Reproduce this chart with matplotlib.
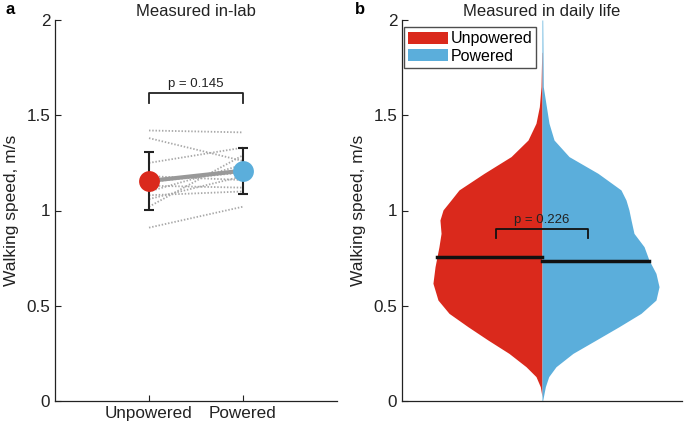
import numpy as np
import matplotlib
matplotlib.use("Agg")
import matplotlib.pyplot as plt
from matplotlib.patches import Patch

plt.rcParams['font.family'] = ['Liberation Sans', 'DejaVu Sans']

RED = '#DA291C'
BLUE = '#5BAEDB'

# ---- panel a data ----
conditions = ['Unpowered', 'Powered']
subj_unpowered = [1.42, 1.38, 1.25, 1.18, 1.15, 1.13, 1.10, 1.08, 1.06, 1.02, 0.91]
subj_powered = [1.41, 1.26, 1.33, 1.16, 1.20, 1.12, 1.24, 1.10, 1.18, 1.29, 1.02]
group_means = [1.155, 1.209]
group_sd = [0.153, 0.120]
p_lab = 'p = 0.145'

# ---- panel b data (violin half-widths) ----
vy_unpowered = [0.023, 0.075, 0.128, 0.18, 0.25, 0.32, 0.39, 0.46, 0.53, 0.618, 0.705,
                0.81, 0.88, 0.95, 1.003, 1.055, 1.108, 1.195, 1.283, 1.37, 1.458,
                1.545, 1.65, 1.83]
vw_unpowered = [0.0, 0.012, 0.043, 0.114, 0.236, 0.386, 0.529, 0.664, 0.743, 0.779, 0.764,
                0.736, 0.721, 0.729, 0.707, 0.650, 0.593, 0.414, 0.221, 0.100, 0.043,
                0.019, 0.007, 0.002]
vy_powered = [0.0, 0.075, 0.128, 0.18, 0.25, 0.32, 0.39, 0.46, 0.53, 0.60, 0.67,
              0.74, 0.81, 0.88, 0.95, 1.003, 1.055, 1.108, 1.195, 1.283, 1.37,
              1.458, 1.65, 2.0]
vw_powered = [0.004, 0.024, 0.048, 0.100, 0.221, 0.386, 0.550, 0.707, 0.814, 0.836, 0.814,
              0.764, 0.729, 0.657, 0.636, 0.621, 0.600, 0.564, 0.400, 0.193, 0.086,
              0.050, 0.009, 0.005]
medians = [0.757, 0.736]
p_life = 'p = 0.226'

yticks = [0, 0.5, 1, 1.5, 2]
yticklabels = ['0', '0.5', '1', '1.5', '2']

fig = plt.figure(figsize=(6.85, 4.28), dpi=100)
W, H = 685, 428
axa = fig.add_axes([55 / W, 1 - 401 / H, 282 / W, 381 / H])
axb = fig.add_axes([402 / W, 1 - 401 / H, 280 / W, 381 / H])

for ax in (axa, axb):
    ax.set_ylim(0, 2)
    ax.set_yticks(yticks)
    ax.set_yticklabels(yticklabels)
    for s in ('top', 'right'):
        ax.spines[s].set_visible(False)
    for s in ('left', 'bottom'):
        ax.spines[s].set_linewidth(0.9)
        ax.spines[s].set_color('#222222')
    ax.tick_params(direction='in', length=4, width=0.8, labelsize=12.3, colors='#222222',
                   labelcolor='#222222')
    ax.set_ylabel('Walking speed, m/s', fontsize=12.5, color='#222222')
    ax.yaxis.set_label_coords(-0.127, 0.5)

# ---- panel a ----
axa.set_xlim(0, 3)
axa.set_xticks([1, 2])
axa.set_xticklabels(conditions)
for u, p in zip(subj_unpowered, subj_powered):
    axa.plot([1, 2], [u, p], ls=(0, (0.8, 1.0)), color='#a8a8a8', lw=1.3, zorder=1)
axa.plot([1, 2], group_means, color='#999999', lw=3, zorder=2)
axa.errorbar([1, 2], group_means, yerr=group_sd, fmt='none', ecolor='#222222',
             elinewidth=1.5, capsize=3.5, capthick=1.5, zorder=3)
axa.plot([1], [group_means[0]], 'o', color=RED, ms=15, mec='none', zorder=4)
axa.plot([2], [group_means[1]], 'o', color=BLUE, ms=15, mec='none', zorder=4)
axa.plot([1, 1, 2, 2], [1.566, 1.615, 1.615, 1.566], color='#222222', lw=1.3)
axa.text(1.5, 1.635, p_lab, ha='center', va='bottom', fontsize=9.5, color='#222222')
axa.set_title('Measured in-lab', fontsize=12, color='#222222', pad=3)

# ---- panel b ----
axb.set_xlim(0, 2)
axb.set_xticks([])
c = 1.0
axb.fill_betweenx(vy_unpowered, c - np.array(vw_unpowered), c, color=RED, lw=0, zorder=1)
axb.fill_betweenx(vy_powered, c, c + np.array(vw_powered), color=BLUE, lw=0, zorder=1)
wm0 = np.interp(medians[0], vy_unpowered, vw_unpowered)
wm1 = np.interp(medians[1], vy_powered, vw_powered)
axb.plot([c - wm0, c], [medians[0]] * 2, color='#111111', lw=2.5, zorder=3)
axb.plot([c, c + wm1], [medians[1]] * 2, color='#111111', lw=2.5, zorder=3)
axb.plot([0.669, 0.669, 1.329, 1.329], [0.855, 0.902, 0.902, 0.855], color='#111111', lw=1.3, zorder=4)
axb.text(1.0, 0.92, p_life, ha='center', va='bottom', fontsize=9.5, color='#222222', zorder=4)
axb.set_title('Measured in daily life', fontsize=12, color='#222222', pad=3)
leg = axb.legend(handles=[Patch(facecolor=RED, label='Unpowered'),
                          Patch(facecolor=BLUE, label='Powered')],
                 loc='upper left', bbox_to_anchor=(0.0, 0.985), fontsize=11.5,
                 frameon=True, fancybox=False, handlelength=2.5, handleheight=0.8,
                 handletextpad=0.2, borderpad=0.25, labelspacing=0.15, borderaxespad=0.1)
leg.get_frame().set_edgecolor('#222222')
leg.get_frame().set_linewidth(1.0)

fig.text(5 / W, 1 - 10 / H, 'a', fontsize=12, fontweight='bold', va='center', ha='left')
fig.text(355 / W, 1 - 10 / H, 'b', fontsize=12, fontweight='bold', va='center', ha='left')

fig.savefig('out.png', dpi=100)
